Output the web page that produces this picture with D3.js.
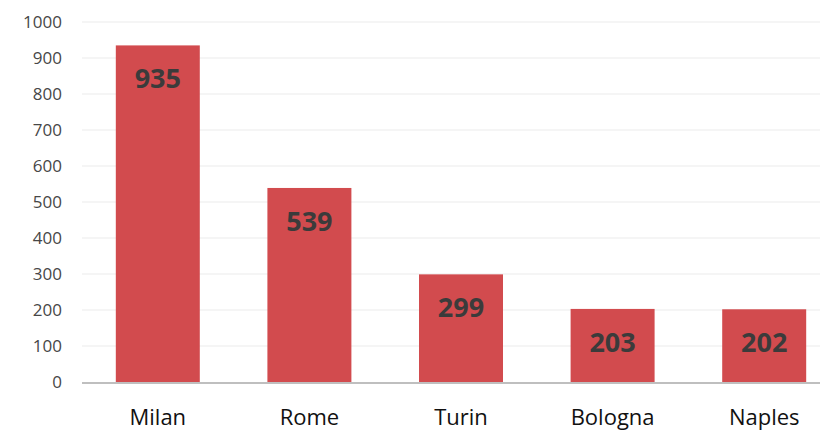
<!DOCTYPE html>
<html><head><meta charset="utf-8">
<script src="https://cdn.jsdelivr.net/npm/d3@7"></script>
<style>body{margin:0;background:#fff;}svg{display:block;}</style>
</head><body>
<svg id="c" width="820" height="435"></svg>
<script>
const categories = ["Milan","Rome","Turin","Bologna","Naples"];
const values = [935,539,299,203,202];
const yTicks = [0,100,200,300,400,500,600,700,800,900,1000];

const svg = d3.select("#c");
const x = d3.scaleBand().domain(categories).range([82,840]).paddingInner(0.446).paddingOuter(0.223);
const y = d3.scaleLinear().domain([0,1000]).range([382,22]);

// gridlines
svg.append("g").selectAll("line").data(yTicks.slice(1)).join("line")
  .attr("x1",82).attr("x2",820).attr("y1",d=>y(d)).attr("y2",d=>y(d))
  .attr("stroke","#ebebeb").attr("stroke-width",1.2);

// y tick labels
const yAxis = svg.append("g").attr("transform","translate(70,0)")
  .call(d3.axisLeft(y).tickValues(yTicks).tickFormat(d3.format("d")).tickSize(0).tickPadding(8));
yAxis.select(".domain").remove();
yAxis.selectAll("text").attr("font-family","'Open Sans', sans-serif").attr("font-size",17)
  .attr("fill","#474747");

// bars
svg.append("g").selectAll("rect").data(categories).join("rect")
  .attr("x",d=>x(d)).attr("width",x.bandwidth())
  .attr("y",(d,i)=>y(values[i])).attr("height",(d,i)=>y(0)-y(values[i]))
  .attr("fill","#d24b4e");

// baseline
svg.append("line").attr("x1",82).attr("x2",820).attr("y1",y(0)+1).attr("y2",y(0)+1)
  .attr("stroke","#bfbfbf").attr("stroke-width",2);

// value labels
svg.append("g").selectAll("text").data(categories).join("text")
  .attr("x",d=>x(d)+x.bandwidth()/2).attr("y",(d,i)=>y(values[i])+43)
  .attr("text-anchor","middle").attr("font-family","'Open Sans', sans-serif")
  .attr("font-weight","bold").attr("font-size",27).attr("fill","#3b3b3b")
  .text((d,i)=>values[i]);

// x axis labels
const xAxis = svg.append("g").attr("transform",`translate(0,${y(0)})`)
  .call(d3.axisBottom(x).tickSize(0).tickPadding(27));
xAxis.select(".domain").remove();
xAxis.selectAll("text").attr("font-family","'Open Sans', sans-serif").attr("font-size",22)
  .attr("fill","#111");
</script>
</body></html>
